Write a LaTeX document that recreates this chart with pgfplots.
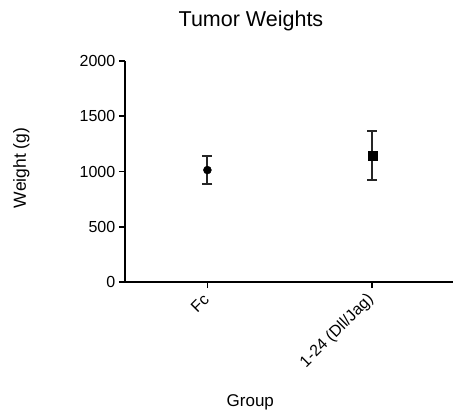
\documentclass[border=0pt]{standalone}
\usepackage{pgfplots}
\pgfplotsset{compat=1.18}
\usepackage{fontspec}
\setmainfont{Liberation Sans}
\begin{document}
\begin{tikzpicture}
\useasboundingbox (-125bp,-134bp) rectangle (328bp,282bp);
\begin{axis}[
  at={(0,0)}, anchor=south west,
  scale only axis, width=328bp, height=221bp,
  xmin=0.5, xmax=2.49, ymin=0, ymax=2000,
  axis x line*=bottom, axis y line*=left,
  axis line style={line width=1.8bp, -, black},
  tick align=outside, major tick length=6bp,
  tick style={line width=1.8bp, black},
  xtick={1,2}, xticklabels={Fc,1-24 (Dll/Jag)},
  ytick={0,500,1000,1500,2000},
  /pgf/number format/assume math mode=true,
  /pgf/number format/1000 sep={},
  ticklabel style={font=\fontsize{16bp}{19bp}\selectfont, inner sep=1.5bp},
  yticklabel style={xshift=-2bp},
  xticklabel style={rotate=45, anchor=east},
  xticklabel shift=8bp,
  title={Tumor Weights},
  title style={at={(axis description cs:0.384,1)}, anchor=base, yshift=29bp, font=\fontsize{21.5bp}{25bp}\selectfont},
  xlabel={Group},
  xlabel style={at={(axis description cs:0.382,0)}, anchor=base, yshift=-124bp, font=\fontsize{17bp}{20bp}\selectfont},
  ylabel={Weight (g)},
  ylabel style={at={([xshift=-99bp]axis description cs:0,0.516)}, anchor=base, font=\fontsize{17.5bp}{20bp}\selectfont},
  clip=false,
]
\addplot[only marks, mark=*, mark size=4bp, black,
  error bars/.cd, y dir=both, y explicit,
  error bar style={line width=1.9bp, black!85},
  error mark options={rotate=90, mark size=5bp, line width=1.9bp, black!85}]
  coordinates {(1,1013) +- (0,130)};
\addplot[only marks, mark=square*, mark size=4.5bp, black,
  error bars/.cd, y dir=both, y explicit,
  error bar style={line width=1.9bp, black!85},
  error mark options={rotate=90, mark size=5bp, line width=1.9bp, black!85}]
  coordinates {(2,1143) +- (0,222)};
\end{axis}
\end{tikzpicture}
\end{document}
